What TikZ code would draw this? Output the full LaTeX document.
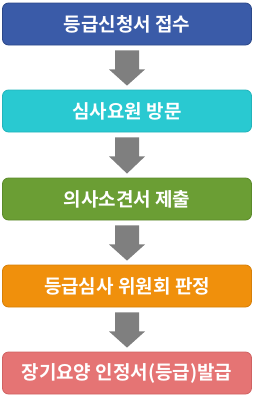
\documentclass[tikz,border=0pt]{standalone}
\usepackage{fontspec}
\usetikzlibrary{calc}
\newfontfamily\krb{Noto Sans CJK KR Bold}
\definecolor{c1}{HTML}{3A5BA8}\definecolor{b1}{HTML}{2C4889}
\definecolor{c2}{HTML}{29C9D1}\definecolor{b2}{HTML}{22B4BB}
\definecolor{c3}{HTML}{6B9E34}\definecolor{b3}{HTML}{5B8A2A}
\definecolor{c4}{HTML}{F0900C}\definecolor{b4}{HTML}{D67F08}
\definecolor{c5}{HTML}{E57474}\definecolor{b5}{HTML}{D06262}
\definecolor{arr}{HTML}{7F7F7F}
\begin{document}
\begin{tikzpicture}[x=1pt,y=-1pt,
  stepbox/.style={draw, line width=0.8pt, rounded corners=6pt, minimum width=249pt, minimum height=42pt, inner sep=0pt,
    text=white, font=\krb\fontsize{19}{21}\selectfont},
  fatarrow/.style={fill=arr, draw=none}]
\useasboundingbox (0,0) rectangle (255,397);
\node[stepbox, fill=c1, draw=b1] (s1) at (127,24) {등급신청서 접수};
\node[stepbox, fill=c2, draw=b2] (s2) at (127,111) {심사요원 방문};
\node[stepbox, fill=c3, draw=b3] (s3) at (127,199) {의사소견서 제출};
\node[stepbox, fill=c4, draw=b4] (s4) at (127,286) {등급심사 위원회 판정};
\node[stepbox, fill=c5, draw=b5] (s5) at (127,373) {장기요양 인정서(등급)발급};
\foreach \a/\b in {s1/s2,s2/s3,s3/s4,s4/s5}{
  \fill[fatarrow] ($(\a.south)+(-12,5)$) -- ($(\a.south)+(12,5)$)
     -- ($(\a.south)+(12,24)$) -- ($(\a.south)+(18,24)$)
     -- ($(\b.north)+(0,-4)$) -- ($(\a.south)+(-18,24)$)
     -- ($(\a.south)+(-12,24)$) -- cycle;
}
\end{tikzpicture}
\end{document}
